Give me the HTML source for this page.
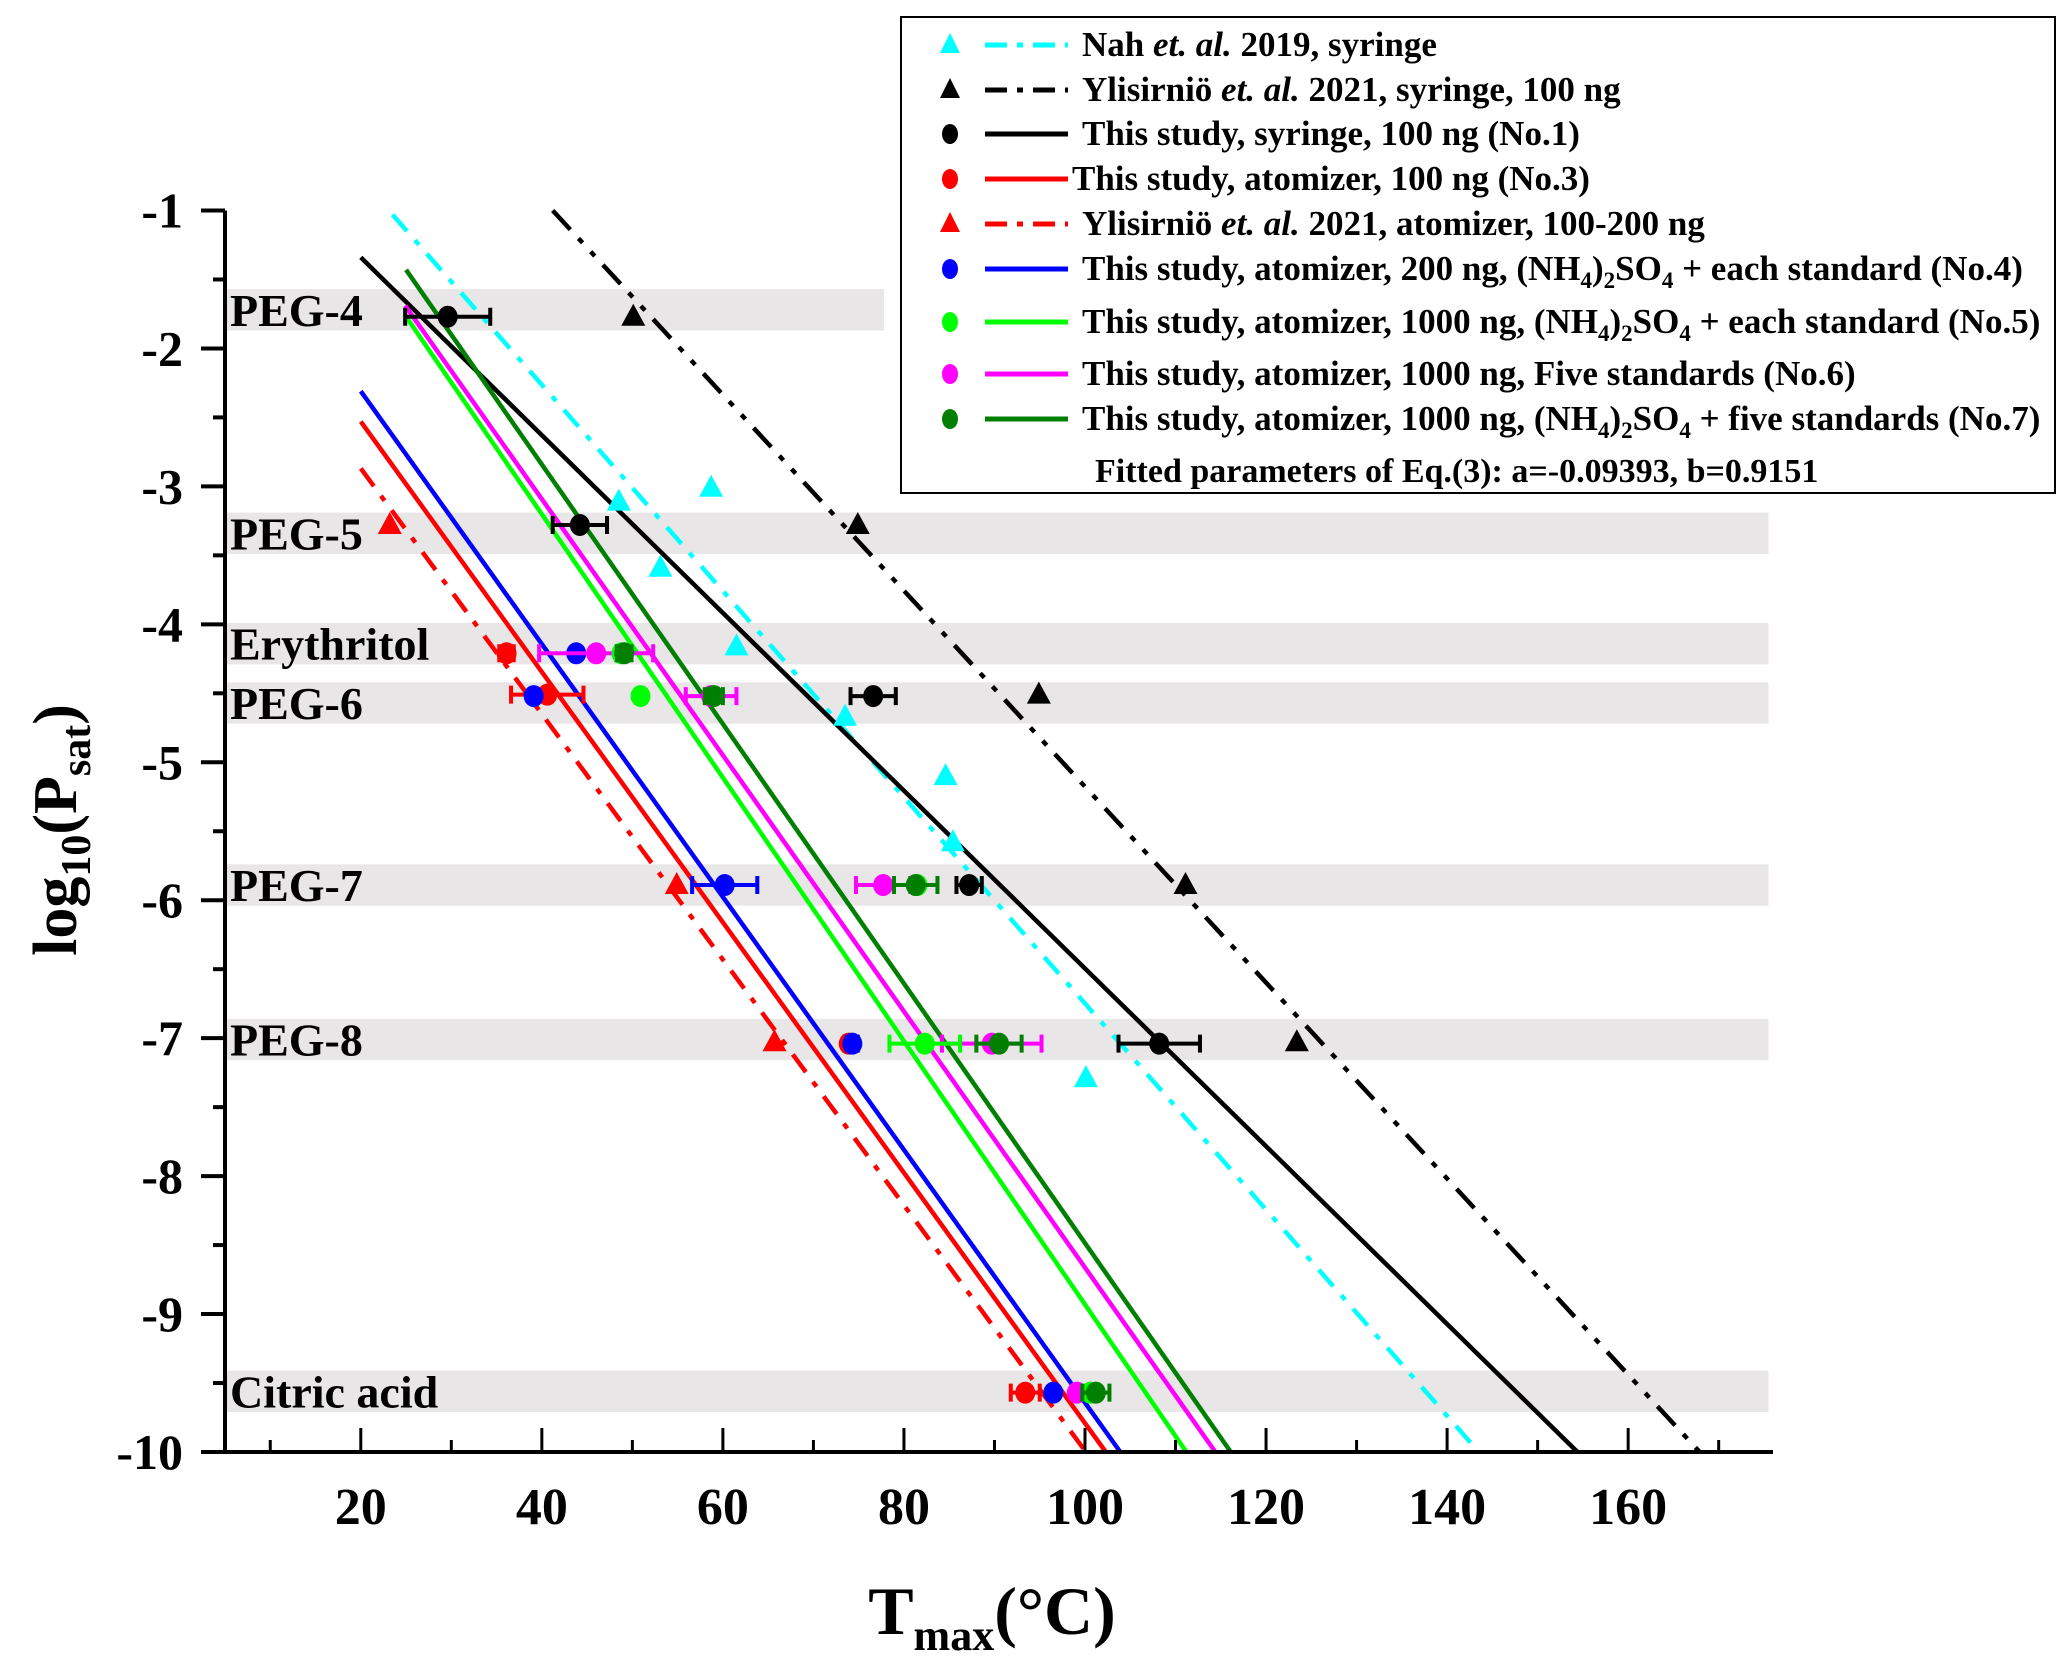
<!DOCTYPE html>
<html><head><meta charset="utf-8"><style>
html,body{margin:0;padding:0;background:#fff}
svg{display:block;font-family:"Liberation Serif",serif;font-weight:bold}
</style></head><body>
<svg id="chart" width="2067" height="1669" viewBox="0 0 2067 1669" xmlns="http://www.w3.org/2000/svg">
<g id="bands"></g>
<g id="lines"></g>
<g id="points"></g>
<g id="axes"></g>
<g id="legend"></g>
</svg>
<script>
const NS='http://www.w3.org/2000/svg';
// axis domains
const xDomain=[5,176], yDomain=[-1,-10];
const xTicks=[20,40,60,80,100,120,140,160];
const xMinor=[10,30,50,70,90,110,130,150,170];
const yTicks=[-1,-2,-3,-4,-5,-6,-7,-8,-9,-10];
const yMinor=[-1.5,-2.5,-3.5,-4.5,-5.5,-6.5,-7.5,-8.5,-9.5];
// compound bands
const bandNames=['PEG-4','PEG-5','Erythritol','PEG-6','PEG-7','PEG-8','Citric acid'];
const bandCenters=[-1.72,-3.34,-4.14,-4.57,-5.89,-7.01,-9.56];
const bandEnds=[77.8,175.5,175.5,175.5,175.5,175.5,175.5];
// fit lines: [x1,y1,x2,y2]
const lineNames=['cyan-nah','black-ylisirnio-syringe','black-no1','red-no3','red-ylisirnio-atomizer','blue-no4','lime-no5','magenta-no6','darkgreen-no7'];
const lineX1=[23.5,41.2,20,20,20,20,24.9,24.9,25.0];
const lineY1=[-1.03,-1.0,-1.34,-2.53,-2.87,-2.31,-1.76,-1.69,-1.43];
const lineX2=[143.5,167.9,154.4,102.3,100.1,103.9,111.2,114.4,116.1];
const lineY2=[-10,-10,-10,-10,-10,-10,-10,-10,-10];
// point series
const cyanTriX=[48.5,58.7,53.1,61.5,73.5,84.6,85.4,100.1];
const cyanTriY=[-3.11,-3.01,-3.59,-4.16,-4.67,-5.10,-5.58,-7.29];
const blackTriX=[50.1,74.9,94.9,111.1,123.4];
const blackTriY=[-1.77,-3.28,-4.51,-5.89,-7.03];
const redTriX=[23.2,54.9,65.7];
const redTriY=[-3.28,-5.89,-7.03];
const blackX=[29.6,44.2,76.6,87.2,108.2];
const blackY=[-1.77,-3.28,-4.52,-5.89,-7.04];
const blackErr=[4.7,3.0,2.5,1.4,4.5];
const redX=[36.1,40.6,73.9,93.4];
const redY=[-4.21,-4.51,-7.04,-9.57];
const redErr=[0.8,4.0,0.5,1.6];
const blueX=[43.8,39.1,60.2,74.3,96.5];
const blueY=[-4.21,-4.52,-5.89,-7.04,-9.57];
const blueErr=[0,0,3.6,0.6,0];
const magX=[46.0,58.7,77.7,89.7,99.1];
const magY=[-4.21,-4.52,-5.89,-7.04,-9.57];
const magErr=[6.3,2.8,3.0,5.5,0];
const limeX=[48.8,50.9,81.5,82.3,100.6];
const limeY=[-4.21,-4.52,-5.89,-7.04,-9.57];
const limeErr=[0.6,0,0,3.9,0];
const dgX=[49.1,59.0,81.3,90.5,101.2];
const dgY=[-4.21,-4.52,-5.89,-7.04,-9.57];
const dgErr=[0.8,1.0,2.4,2.5,1.5];

const X0=225,X1=1773,Y0=210.5,Y1=1452;
function sx(v){return X0+(v-xDomain[0])/(xDomain[1]-xDomain[0])*(X1-X0);}
function sy(v){return Y0+(v-yDomain[0])/(yDomain[1]-yDomain[0])*(Y1-Y0);}
function mk(tag,attrs,parent){const e=document.createElementNS(NS,tag);for(const k in attrs)e.setAttribute(k,attrs[k]);parent.appendChild(e);return e;}

const gB=document.getElementById('bands');
bandNames.forEach((n,i)=>{
  const r=mk('rect',{x:X0,y:sy(bandCenters[i]+0.15),width:sx(bandEnds[i])-X0,height:sy(bandCenters[i]-0.15)-sy(bandCenters[i]+0.15),fill:'#e8e6e6'},gB);
  
  
  const t=mk('text',{x:X0+5,y:sy(bandCenters[i])+16,'font-size':46,fill:'#000'},gB);
  t.textContent=n;
  
  
});

const colors=['#00ffff','#000','#000','#ff0000','#ff0000','#0000ff','#00ff00','#ff00ff','#007f00'];
const dashes=['22,12,6,12','26,12,6,12,6,12','','','22,12,6,12','','','',''];
const gL=document.getElementById('lines');
lineNames.forEach((n,i)=>{
  const l=mk('line',{x1:sx(lineX1[i]),y1:sy(lineY1[i]),x2:sx(lineX2[i]),y2:sy(lineY2[i]),stroke:colors[i],'stroke-width':4.5},gL);
  if(dashes[i])l.setAttribute('stroke-dasharray',dashes[i]);
  
  
});

const gP=document.getElementById('points');
function tri(xs,ys,col,name){xs.forEach((v,i)=>{const cx=sx(v),cy=sy(ys[i]);
  const p=mk('polygon',{points:`${cx},${cy-13} ${cx-12},${cy+9} ${cx+12},${cy+9}`,fill:col},gP);
  
  });}
function circ(xs,ys,errs,col,name){xs.forEach((v,i)=>{const cx=sx(v),cy=sy(ys[i]);
  if(errs[i]>0){const a=sx(v-errs[i]),b=sx(v+errs[i]);
    const e=mk('path',{d:`M${a},${cy}H${b}M${a},${cy-9}V${cy+9}M${b},${cy-9}V${cy+9}`,stroke:col,'stroke-width':4,fill:'none'},gP);
    
    }
  const c=mk('ellipse',{cx:cx,cy:cy,rx:10,ry:11,fill:col},gP);
  
  });}
tri(cyanTriX,cyanTriY,'#00ffff','point-nah');
tri(blackTriX,blackTriY,'#000','point-ylisirnio-syringe');
tri(redTriX,redTriY,'#ff0000','point-ylisirnio-atomizer');
circ(redX,redY,redErr,'#ff0000','point-no3');
circ(blueX,blueY,blueErr,'#0000ff','point-no4');
circ(magX,magY,magErr,'#ff00ff','point-no6');
circ(limeX,limeY,limeErr,'#00ff00','point-no5');
circ(dgX,dgY,dgErr,'#007f00','point-no7');
circ(blackX,blackY,blackErr,'#000','point-no1');

const gA=document.getElementById('axes');
let a=mk('line',{x1:X0,y1:Y0,x2:X0,y2:Y1+2,stroke:'#000','stroke-width':4},gA);

a=mk('line',{x1:X0-2,y1:Y1,x2:X1,y2:Y1,stroke:'#000','stroke-width':4},gA);

yTicks.forEach(v=>{const y=sy(v);
  const t=mk('line',{x1:X0-24,y1:y,x2:X0,y2:y,stroke:'#000','stroke-width':4},gA);
  
  const l=mk('text',{x:183,y:y+17,'font-size':50,'text-anchor':'end'},gA);l.textContent=v;
  });
yMinor.forEach(v=>{const y=sy(v);
  const t=mk('line',{x1:X0-12,y1:y,x2:X0,y2:y,stroke:'#000','stroke-width':4},gA);
  });
xTicks.forEach(v=>{const x=sx(v);
  const t=mk('line',{x1:x,y1:Y1-24,x2:x,y2:Y1,stroke:'#000','stroke-width':3},gA);
  
  const l=mk('text',{x:x,y:1524,'font-size':52,'text-anchor':'middle'},gA);l.textContent=v;
  });
xMinor.forEach(v=>{const x=sx(v);
  const t=mk('line',{x1:x,y1:Y1-12,x2:x,y2:Y1,stroke:'#000','stroke-width':3},gA);
  });
let xt=mk('text',{x:992,y:1634,'font-size':68,'text-anchor':'middle'},gA);
xt.innerHTML='T<tspan font-size="44" dy="16">max</tspan><tspan dy="-16">(°C)</tspan>';

let yt=mk('text',{x:0,y:0,'font-size':62,'text-anchor':'middle',transform:'translate(76,830) rotate(-90)'},gA);
yt.innerHTML='log<tspan font-size="42" dy="14">10</tspan><tspan dy="-14">(P</tspan><tspan font-size="42" dy="14">sat</tspan><tspan dy="-14">)</tspan>';


const gG=document.getElementById('legend');
let box=mk('rect',{x:901,y:17,width:1154,height:476,fill:'#fff',stroke:'#000','stroke-width':2},gG);

const legY=[45,90,134,179,224,269,322,374,419];
const legMarker=['tri','tri','circ','circ','tri','circ','circ','circ','circ'];
const legColor=['#00ffff','#000','#000','#ff0000','#ff0000','#0000ff','#00ff00','#ff00ff','#007f00'];
const legDash=['22,10,6,10','22,10,6,10','','','22,10,6,10','','','',''];
const legText=[
 'Nah <tspan font-style="italic">et. al.</tspan> 2019, syringe',
 'Ylisirniö <tspan font-style="italic">et. al.</tspan> 2021, syringe, 100 ng',
 'This study, syringe, 100 ng (No.1)',
 'This study, atomizer, 100 ng (No.3)',
 'Ylisirniö <tspan font-style="italic">et. al.</tspan> 2021, atomizer, 100-200 ng',
 'This study, atomizer, 200 ng, (NH<tspan font-size="23" dy="8">4</tspan><tspan dy="-8">)</tspan><tspan font-size="23" dy="8">2</tspan><tspan dy="-8">SO</tspan><tspan font-size="23" dy="8">4</tspan><tspan dy="-8"> + each standard (No.4)</tspan>',
 'This study, atomizer, 1000 ng, (NH<tspan font-size="23" dy="8">4</tspan><tspan dy="-8">)</tspan><tspan font-size="23" dy="8">2</tspan><tspan dy="-8">SO</tspan><tspan font-size="23" dy="8">4</tspan><tspan dy="-8"> + each standard (No.5)</tspan>',
 'This study, atomizer, 1000 ng, Five standards (No.6)',
 'This study, atomizer, 1000 ng, (NH<tspan font-size="23" dy="8">4</tspan><tspan dy="-8">)</tspan><tspan font-size="23" dy="8">2</tspan><tspan dy="-8">SO</tspan><tspan font-size="23" dy="8">4</tspan><tspan dy="-8"> + five standards (No.7)</tspan>'];
legY.forEach((y,i)=>{
  const g=mk('g',{},gG);
  
  
  if(legMarker[i]==='tri')mk('polygon',{points:`950,${y-12} 940,${y+8} 960,${y+8}`,fill:legColor[i]},g);
  else mk('ellipse',{cx:950,cy:y,rx:8,ry:10,fill:legColor[i]},g);
  const l=mk('line',{x1:985,y1:y,x2:1068,y2:y,stroke:legColor[i],'stroke-width':5},g);
  if(legDash[i])l.setAttribute('stroke-dasharray',legDash[i]);
  const t=mk('text',{x:i===3?1072:1082,y:y+11,'font-size':35},g);
  t.innerHTML=legText[i];
});
let note=mk('text',{x:1095,y:482,'font-size':34},gG);
note.textContent='Fitted parameters of Eq.(3): a=-0.09393, b=0.9151';

</script>
</body></html>
